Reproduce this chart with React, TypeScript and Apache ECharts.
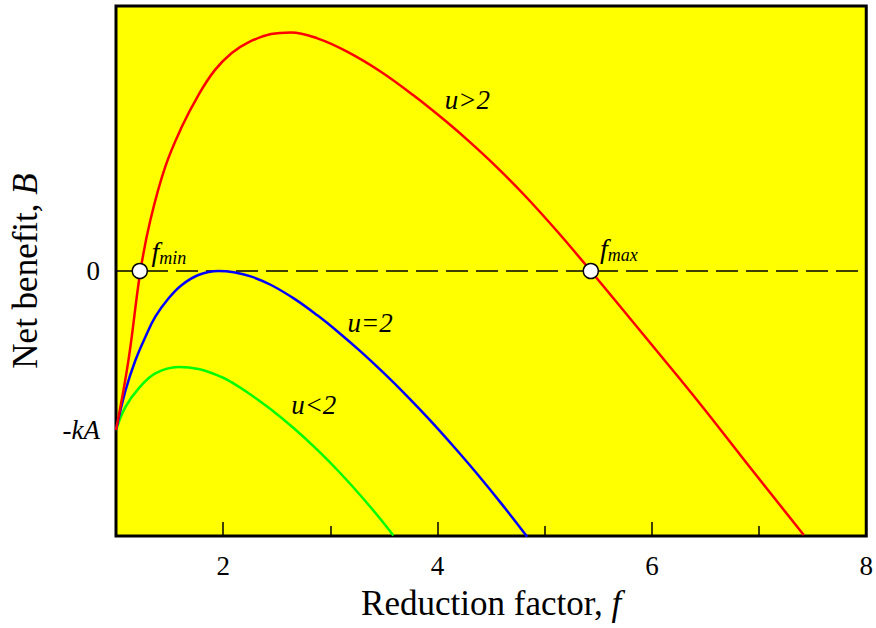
import React, { useEffect, useRef } from "react";
import * as echarts from "echarts";

// Reduction factor f (x) and net benefit B (y, in units where kA = 3)
const redF = [1, 1.115, 1.228, 1.321, 1.46, 1.614, 1.769, 1.922, 2.077, 2.231, 2.447, 2.632, 2.879, 3.156, 3.464, 3.772, 4.081, 4.292, 4.55, 4.816, 5.12, 5.43, 5.985, 6.447, 6.909, 7.417];
const redB = [-3, -1.7, 0, 0.962, 1.97, 2.72, 3.32, 3.79, 4.11, 4.31, 4.47, 4.5, 4.39, 4.14, 3.77, 3.32, 2.82, 2.45, 1.965, 1.42, 0.74, 0, -1.36, -2.5, -3.69, -4.98];

const blueF = [1, 1.09, 1.182, 1.275, 1.367, 1.491, 1.614, 1.769, 1.954, 2.1, 2.264, 2.447, 2.662, 2.879, 3.064, 3.279, 3.495, 3.711, 3.927, 4.142, 4.359, 4.605, 4.836];
const blueB = [-3, -2.245, -1.68, -1.24, -0.862, -0.515, -0.264, -0.075, 0, -0.025, -0.107, -0.264, -0.522, -0.837, -1.137, -1.513, -1.919, -2.351, -2.809, -3.293, -3.803, -4.413, -5.014];

const greenF = [1, 1.09, 1.214, 1.367, 1.584, 1.769, 1.984, 2.077, 2.262, 2.447, 2.662, 2.879, 3.094, 3.31, 3.495, 3.588];
const greenB = [-3, -2.56, -2.21, -1.93, -1.81, -1.85, -2.0, -2.098, -2.34, -2.614, -2.972, -3.375, -3.816, -4.301, -4.75, -4.99];

const zeroF = [1, 8];
const zeroB = [0, 0];

const fMin = 1.222;
const fMax = 5.43;

const xLabelValues = [2, 4, 6, 8];
const xMinorTicks = [3, 5, 7];
const xMajorTicks = [2, 4, 6];
const yLabelValues = [-3, 0];

const curveLabels = [
  { f: 4.278, b: 3.226, text: "u>2" },
  { f: 3.372, b: -0.981, text: "u=2" },
  { f: 2.845, b: -2.528, text: "u<2" },
];

const SERIF = "Liberation Serif";

const zip = (xs: number[], ys: number[]) => xs.map((x, i) => [x, ys[i]]);

export default function App() {
  const ref = useRef<HTMLDivElement>(null);

  useEffect(() => {
    if (!ref.current) return;
    const chart = echarts.init(ref.current, null, { renderer: "svg" });

    const curveStyle = (color: string) => ({
      type: "line" as const,
      smooth: 0.4,
      showSymbol: false,
      symbol: "none",
      lineStyle: { color, width: 2.5 },
      emphasis: { disabled: true },
      z: 3,
    });

    const subRich = {
      f: { fontFamily: SERIF, fontStyle: "italic", fontSize: 28, color: "#000" },
      s: { fontFamily: SERIF, fontStyle: "italic", fontSize: 18, color: "#000", padding: [14, 0, 0, 0] },
    };

    const option: any = {
      animation: false,
      backgroundColor: "#fff",
      grid: {
        left: 114,
        right: 6,
        top: 6,
        bottom: 92,
        show: true,
        backgroundColor: "#FFFF00",
        borderColor: "#000",
        borderWidth: 3,
      },
      xAxis: [
        {
          type: "value",
          min: 1,
          max: 8,
          interval: 1,
          position: "bottom",
          axisLine: { show: false, onZero: false },
          splitLine: { show: false },
          axisTick: {
            show: true,
            inside: true,
            length: 10,
            customValues: xMinorTicks,
            lineStyle: { color: "#000", width: 1.5 },
          },
          axisLabel: {
            customValues: xLabelValues,
            fontFamily: SERIF,
            fontSize: 27,
            color: "#000",
            margin: 16,
          },
          name: "{n|Reduction factor, }{i|f}",
          nameLocation: "middle",
          nameGap: 50,
          nameTextStyle: {
            rich: {
              n: { fontFamily: SERIF, fontSize: 35, color: "#000" },
              i: { fontFamily: SERIF, fontSize: 35, fontStyle: "italic", color: "#000" },
            },
          },
        },
        {
          type: "value",
          min: 1,
          max: 8,
          interval: 1,
          position: "bottom",
          axisLine: { show: false, onZero: false },
          splitLine: { show: false },
          axisLabel: { show: false },
          axisTick: {
            show: true,
            inside: true,
            length: 14,
            customValues: xMajorTicks,
            lineStyle: { color: "#000", width: 1.5 },
          },
        },
      ],
      yAxis: {
        type: "value",
        min: -5,
        max: 5,
        interval: 1,
        axisLine: { show: false, onZero: false },
        splitLine: { show: false },
        axisTick: { show: false },
        axisLabel: {
          customValues: yLabelValues,
          margin: 16,
          formatter: (v: number) => (v === 0 ? "{n|0}" : "{n|-}{i|kA}"),
          rich: {
            n: { fontFamily: SERIF, fontSize: 27, color: "#000" },
            i: { fontFamily: SERIF, fontSize: 27, fontStyle: "italic", color: "#000" },
          },
        },
        name: "{n|Net benefit, }{i|B}",
        nameLocation: "middle",
        nameGap: 73,
        nameTextStyle: {
          rich: {
            n: { fontFamily: SERIF, fontSize: 35, color: "#000" },
            i: { fontFamily: SERIF, fontSize: 35, fontStyle: "italic", color: "#000" },
          },
        },
      },
      series: [
        {
          type: "line",
          data: zip(zeroF, zeroB),
          showSymbol: false,
          symbol: "none",
          lineStyle: { color: "#000", width: 1.5, type: [22, 8] },
          emphasis: { disabled: true },
          z: 2,
        },
        { ...curveStyle("#00FF00"), data: zip(greenF, greenB) },
        { ...curveStyle("#0000FF"), data: zip(blueF, blueB) },
        { ...curveStyle("#FF0000"), data: zip(redF, redB) },
        {
          type: "scatter",
          symbol: "circle",
          symbolSize: 15,
          itemStyle: { color: "#fff", borderColor: "#000", borderWidth: 1.5, opacity: 1 },
          emphasis: { disabled: true },
          z: 5,
          data: [
            {
              value: [fMin, 0],
              label: {
                show: true,
                position: "inside",
                offset: [29, -20],
                formatter: "{f|f}{s|min}",
                rich: subRich,
              },
            },
            {
              value: [fMax, 0],
              label: {
                show: true,
                position: "inside",
                offset: [28, -23],
                formatter: "{f|f}{s|max}",
                rich: subRich,
              },
            },
          ],
        },
        {
          type: "scatter",
          symbolSize: 0,
          itemStyle: { opacity: 1 },
          emphasis: { disabled: true },
          z: 6,
          data: curveLabels.map((c) => ({
            value: [c.f, c.b],
            label: {
              show: true,
              position: "inside",
              formatter: c.text,
              fontFamily: SERIF,
              fontStyle: "italic",
              fontSize: 27,
              color: "#000",
            },
          })),
        },
      ],
    };

    chart.setOption(option);
    return () => chart.dispose();
  }, []);

  return (
    <div
      ref={ref}
      style={{ position: "absolute", left: 0, top: 0, width: 876, height: 628 }}
    />
  );
}
